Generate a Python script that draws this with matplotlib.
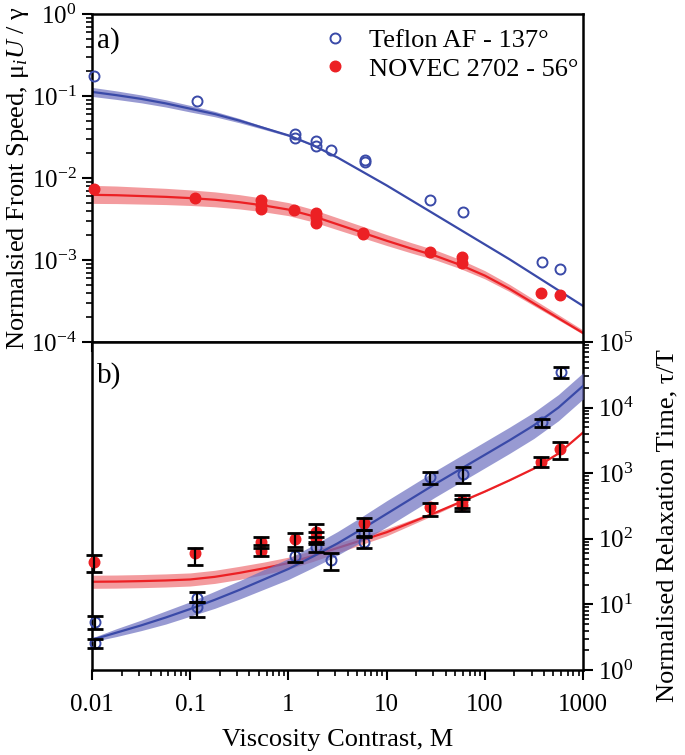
import numpy as np
import matplotlib.pyplot as plt
from matplotlib.ticker import LogLocator, NullFormatter

plt.rcParams['font.family'] = ['Liberation Serif', 'DejaVu Serif']
plt.rcParams['mathtext.fontset'] = 'custom'
plt.rcParams['mathtext.rm'] = 'Liberation Serif'
plt.rcParams['mathtext.it'] = 'Liberation Serif:italic'

BLUE = '#3a4aa8'
BLUE_BAND = '#6c70c0'
RED = '#ec2024'
RED_BAND = '#f07a7e'

# ---------- a) front speed ----------
teflon_M = [0.0106, 0.116, 1.16, 1.16, 1.91, 1.91, 2.74, 5.98, 5.98, 27.8, 59.6, 379, 583]
teflon_U = [0.174, 0.086, 0.0341, 0.0307, 0.0282, 0.0245, 0.0222, 0.0165, 0.0155,
            0.0054, 0.00385, 0.00095, 0.00078]

novec_M = [0.0105, 0.113, 0.52, 0.52, 0.52, 1.15, 1.9, 1.9, 1.9, 5.8, 5.8,
           27.5, 58, 58, 370, 580]
novec_U = [0.0073, 0.00565, 0.0054, 0.0047, 0.0042, 0.0041, 0.00373, 0.00333, 0.00281,
           0.00215, 0.00205, 0.00126, 0.0011, 0.00093, 0.00040, 0.00037]

# fitted curves, read as log10 values every quarter decade
fit_logM = [-2.0, -1.75, -1.5, -1.25, -1.0, -0.75, -0.5, -0.25, 0.0, 0.25, 0.5,
            0.75, 1.0, 1.25, 1.5, 1.75, 2.0, 2.25, 2.5, 2.75, 3.0]

teflon_fitU = [-0.95, -0.99, -1.035, -1.09, -1.155, -1.22, -1.30, -1.39, -1.48, -1.60, -1.75,
               -1.92, -2.09, -2.27, -2.45, -2.63, -2.81, -2.99, -3.18, -3.37, -3.56]
teflon_bandU = [0.055, 0.052, 0.048, 0.044, 0.04, 0.033, 0.026, 0.018, 0.012, 0.008, 0.006,
                0.005, 0.005, 0.005, 0.005, 0.005, 0.005, 0.005, 0.005, 0.005, 0.005]

novec_fitU = [-2.205, -2.21, -2.22, -2.23, -2.245, -2.265, -2.295, -2.335, -2.385, -2.465, -2.565,
              -2.665, -2.765, -2.86, -2.95, -3.06, -3.19, -3.35, -3.53, -3.71, -3.89]
novec_bandU_hi = [0.115, 0.112, 0.108, 0.104, 0.10, 0.096, 0.092, 0.088, 0.085, 0.082, 0.08,
                  0.078, 0.075, 0.072, 0.07, 0.066, 0.06, 0.054, 0.048, 0.042, 0.036]
novec_bandU_lo = [0.105, 0.102, 0.098, 0.094, 0.09, 0.086, 0.082, 0.078, 0.074, 0.07, 0.066,
                  0.062, 0.058, 0.054, 0.05, 0.045, 0.04, 0.034, 0.028, 0.022, 0.016]

# ---------- b) relaxation time ----------
teflon_Mb = [0.0107, 0.0107, 0.117, 0.117, 1.16, 1.9, 2.7, 5.9, 5.9, 27.8, 59.6, 379, 600]
teflon_tau = [5.4, 2.55, 12.5, 9.0, 55, 75, 47.5, 121, 90, 870, 980, 6100, 35500]
teflon_tau_lo = [4.2, 2.2, 10.8, 6.5, 45, 63, 33, 105, 72, 685, 716, 5000, 28600]
teflon_tau_hi = [6.6, 3.0, 15.5, 11.0, 68, 90, 60, 135, 110, 1050, 1260, 6700, 41100]

novec_Mb = [0.0105, 0.113, 0.52, 0.52, 1.16, 1.9, 1.9, 5.9, 27.5, 58, 58, 370, 580]
novec_tau = [44, 60, 88, 65, 98, 128, 102, 172, 302, 373, 330, 1470, 2300]
novec_tau_lo = [31.6, 40, 72, 54, 76, 108, 84, 136, 222, 290, 270, 1260, 1640]
novec_tau_hi = [56, 72, 107, 80, 121, 170, 125, 204, 355, 460, 410, 1750, 3000]

teflon_fitT = [0.46, 0.57, 0.68, 0.80, 0.93, 1.07, 1.22, 1.38, 1.54, 1.73, 1.93,
               2.15, 2.38, 2.61, 2.84, 3.06, 3.28, 3.50, 3.73, 4.00, 4.33]
teflon_bandT = [0.03, 0.06, 0.08, 0.10, 0.11, 0.13, 0.14, 0.15, 0.16, 0.17, 0.18,
                0.19, 0.2, 0.2, 0.2, 0.2, 0.2, 0.2, 0.2, 0.2, 0.2]

novec_fitT = [1.345, 1.348, 1.355, 1.365, 1.38, 1.42, 1.48, 1.55, 1.63, 1.74, 1.86,
              1.98, 2.10, 2.25, 2.40, 2.56, 2.72, 2.89, 3.07, 3.30, 3.62]
novec_bandT = [0.1, 0.1, 0.1, 0.1, 0.1, 0.1, 0.1, 0.095, 0.09, 0.085, 0.075,
               0.065, 0.055, 0.04, 0.025, 0.012, 0.006, 0.004, 0.003, 0.003, 0.003]


def log_arr(v):
    return 10 ** np.array(v)


fig = plt.figure(figsize=(6.85, 7.55), dpi=100)
ax1 = fig.add_axes([0.13431, 0.54702, 0.71679, 0.43444])
ax2 = fig.add_axes([0.13431, 0.11258, 0.71679, 0.43444])

M_fit = log_arr(fit_logM)

# panel a
fU = np.array(teflon_fitU)
bU = np.array(teflon_bandU)
ax1.fill_between(M_fit, 10 ** (fU - bU), 10 ** (fU + bU), color=BLUE_BAND, alpha=0.7, lw=0)
ax1.plot(M_fit, 10 ** fU, color=BLUE, lw=1.6)
nU = np.array(novec_fitU)
ax1.fill_between(M_fit, 10 ** (nU - np.array(novec_bandU_lo)), 10 ** (nU + np.array(novec_bandU_hi)),
                 color=RED_BAND, alpha=0.75, lw=0)
ax1.plot(M_fit, 10 ** nU, color=RED, lw=1.6)
ax1.plot(teflon_M, teflon_U, 'o', mfc='none', mec=BLUE, mew=1.4, ms=7.2,
         label='Teflon AF - 137°', clip_on=False, zorder=5)
ax1.plot(novec_M, novec_U, 'o', color=RED, ms=7.6, mec=RED,
         label='NOVEC 2702 - 56°', clip_on=False, zorder=5)

ax1.set_xscale('log')
ax1.set_yscale('log')
ax1.set_xlim(0.01, 1000)
ax1.set_ylim(1e-4, 1)
ax1.set_ylabel(r'Normalsied Front Speed, μ$_i$$U$ / γ', fontsize=19, labelpad=0)
ax1.tick_params(axis='x', which='both', bottom=True, top=False, labelbottom=False)
ax1.tick_params(axis='y', which='both', left=True, right=False)
ax1.yaxis.set_minor_locator(LogLocator(base=10, subs=np.arange(2, 10)))
ax1.xaxis.set_minor_locator(LogLocator(base=10, subs=np.arange(2, 10)))
ax1.yaxis.set_minor_formatter(NullFormatter())
ax1.text(0.01, 0.96, 'a)', transform=ax1.transAxes, fontsize=21, va='top', ha='left')
ax1.legend(loc='upper right', bbox_to_anchor=(1.02, 1.0), frameon=False, fontsize=19,
           handletextpad=0.8, borderaxespad=0.15, labelspacing=0.2, handlelength=1.0)

# panel b
fT = np.array(teflon_fitT)
bT = np.array(teflon_bandT)
nT = np.array(novec_fitT)
rb = np.array(novec_bandT)
ax2.fill_between(M_fit, 10 ** (nT - rb), 10 ** (nT + rb), color=RED_BAND, alpha=0.75, lw=0, zorder=1)
ax2.plot(M_fit, 10 ** nT, color=RED, lw=1.6, zorder=2)
ax2.fill_between(M_fit, 10 ** (fT - bT), 10 ** (fT + bT), color=BLUE_BAND, alpha=0.7, lw=0, zorder=3)
ax2.plot(M_fit, 10 ** fT, color=BLUE, lw=1.6, zorder=4)

ax2.plot(teflon_Mb, teflon_tau, 'o', mfc='none', mec=BLUE, mew=1.4, ms=7.2, zorder=5, clip_on=False)
ax2.plot(novec_Mb, novec_tau, 'o', color=RED, ms=7.6, zorder=5, clip_on=False)
for Mv, tv, lo, hi in [(teflon_Mb, teflon_tau, teflon_tau_lo, teflon_tau_hi),
                       (novec_Mb, novec_tau, novec_tau_lo, novec_tau_hi)]:
    t = np.array(tv)
    yerr = [t - np.array(lo), np.array(hi) - t]
    ax2.errorbar(Mv, t, yerr=yerr, fmt='none', ecolor='black', elinewidth=1.6,
                 capsize=6, capthick=2, zorder=6, clip_on=False)

ax2.set_xscale('log')
ax2.set_yscale('log')
ax2.set_xlim(0.01, 1000)
ax2.set_ylim(1, 1e5)
ax2.set_xticks([0.01, 0.1, 1, 10, 100, 1000])
ax2.set_xticklabels(['0.01', '0.1', '1', '10', '100', '1000'])
ax2.xaxis.set_minor_locator(LogLocator(base=10, subs=np.arange(2, 10)))
ax2.xaxis.set_minor_formatter(NullFormatter())
ax2.set_xlabel('Viscosity Contrast, M', fontsize=19, labelpad=9)
ax2.yaxis.tick_right()
ax2.yaxis.set_label_position('right')
ax2.yaxis.set_minor_locator(LogLocator(base=10, subs=np.arange(2, 10)))
ax2.yaxis.set_minor_formatter(NullFormatter())
ax2.set_ylabel('Normalised Relaxation Time, τ/T', fontsize=19)
ax2.yaxis.set_label_coords(1.15, 0.44)
ax2.tick_params(axis='x', which='both', top=False)
ax2.tick_params(axis='x', which='major', pad=10)
ax2.text(0.01, 0.94, 'b)', transform=ax2.transAxes, fontsize=21, va='top', ha='left')

for ax in (ax1, ax2):
    for s in ax.spines.values():
        s.set_linewidth(1.8)
    ax.tick_params(which='major', direction='out', length=7.5, width=1.5, labelsize=18)
    ax.tick_params(which='minor', direction='out', length=4.5, width=1.2)

fig.savefig('out.png', dpi=100)
